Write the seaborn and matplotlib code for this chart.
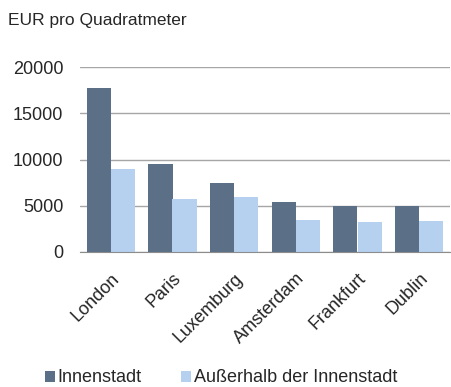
import matplotlib
matplotlib.use("Agg")
import matplotlib.pyplot as plt
import seaborn as sns
import pandas as pd

cities = ["London", "Paris", "Luxemburg", "Amsterdam", "Frankfurt", "Dublin"]
innenstadt = [17700, 9500, 7500, 5400, 5000, 5000]
ausserhalb = [9000, 5750, 6000, 3500, 3200, 3400]
series_names = ["Innenstadt", "Außerhalb der Innenstadt"]
colors = ["#5b7086", "#b5d1ef"]
yticks = [0, 5000, 10000, 15000, 20000]

df = pd.DataFrame({
    "Stadt": cities * 2,
    "Wert": innenstadt + ausserhalb,
    "Serie": [series_names[0]] * len(cities) + [series_names[1]] * len(cities),
})

sns.set_style("white")
plt.rcParams["font.family"] = ["Liberation Sans", "DejaVu Sans"]

fig = plt.figure(figsize=(4.51, 3.87), dpi=100)
ax = fig.add_axes([80 / 451, 1 - 252 / 387, 370 / 451, 185 / 387])

sns.barplot(data=df, x="Stadt", y="Wert", hue="Serie", palette=colors,
            width=0.78, gap=0, saturation=1, linewidth=0, ax=ax, legend=True)

ax.set_ylim(0, 20000)
ax.set_yticks(yticks)
ax.set_yticklabels([str(v) for v in yticks], fontsize=13)
ax.set_xlim(-0.5, len(cities) - 0.5)
ax.set_xlabel("")
ax.set_ylabel("")
ax.yaxis.grid(True, color="#a6a6a6", linewidth=1)
ax.set_axisbelow(True)
for side in ["left", "right", "top"]:
    ax.spines[side].set_visible(False)
ax.spines["bottom"].set_color("#8c8c8c")
ax.tick_params(axis="y", length=0, pad=12)
ax.tick_params(axis="x", length=0, pad=13)
plt.setp(ax.get_xticklabels(), rotation=45, ha="right", va="top",
         rotation_mode="anchor", fontsize=13)

handles, labels = ax.get_legend_handles_labels()
ax.legend_.remove()
fig.legend(handles, labels, loc="center", bbox_to_anchor=(221 / 451, 1 - 378 / 387),
           ncol=2, frameon=False, fontsize=13, handlelength=0.55, handleheight=0.55,
           handletextpad=0.15, columnspacing=2.2)

fig.text(8 / 451, 1 - 20 / 387, "EUR pro Quadratmeter", fontsize=12.5,
         va="center", ha="left")

fig.savefig("out.png", dpi=100)
